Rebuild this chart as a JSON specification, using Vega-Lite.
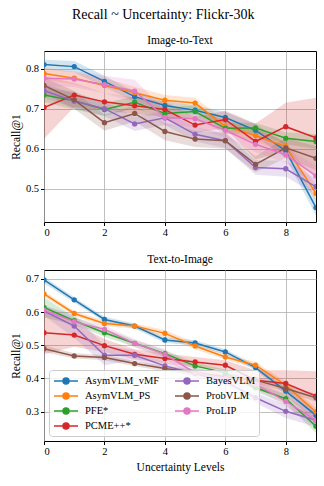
{
  "$schema": "https://vega.github.io/schema/vega-lite/v6.json",
  "padding": {"left": 9, "top": 8, "right": 8, "bottom": 5},
  "title": {"text": "Recall ~ Uncertainty: Flickr-30k", "fontSize": 14, "fontWeight": "normal", "font": "Liberation Serif", "anchor": "middle", "offset": 12},
  "config": {
    "font": "Liberation Serif",
    "view": {"stroke": "black", "strokeWidth": 1},
    "axis": {"grid": true, "gridColor": "#b0b0b0", "gridWidth": 0.8, "domain": false, "tickColor": "black", "tickSize": 3.5, "labelFontSize": 10.5, "labelColor": "black", "titleFontSize": 11.5, "titleFontWeight": "normal", "titleColor": "black", "labelFont": "Liberation Serif", "titleFont": "Liberation Serif"},
    "title": {"fontSize": 11.5, "fontWeight": "normal", "font": "Liberation Serif", "offset": 5},
    "legend": {"labelFont": "Liberation Serif"}
  },
  "data": {"values": [
    {"p":"i2t","m":"AsymVLM_vMF","x":0,"y":0.810,"e":0.012},{"p":"i2t","m":"AsymVLM_vMF","x":1,"y":0.805,"e":0.014},{"p":"i2t","m":"AsymVLM_vMF","x":2,"y":0.768,"e":0.014},{"p":"i2t","m":"AsymVLM_vMF","x":3,"y":0.730,"e":0.012},{"p":"i2t","m":"AsymVLM_vMF","x":4,"y":0.708,"e":0.012},{"p":"i2t","m":"AsymVLM_vMF","x":5,"y":0.696,"e":0.012},{"p":"i2t","m":"AsymVLM_vMF","x":6,"y":0.678,"e":0.014},{"p":"i2t","m":"AsymVLM_vMF","x":7,"y":0.646,"e":0.015},{"p":"i2t","m":"AsymVLM_vMF","x":8,"y":0.595,"e":0.018},{"p":"i2t","m":"AsymVLM_vMF","x":9,"y":0.453,"e":0.02},
    {"p":"i2t","m":"AsymVLM_PS","x":0,"y":0.788,"e":0.015},{"p":"i2t","m":"AsymVLM_PS","x":1,"y":0.776,"e":0.015},{"p":"i2t","m":"AsymVLM_PS","x":2,"y":0.758,"e":0.018},{"p":"i2t","m":"AsymVLM_PS","x":3,"y":0.740,"e":0.015},{"p":"i2t","m":"AsymVLM_PS","x":4,"y":0.721,"e":0.013},{"p":"i2t","m":"AsymVLM_PS","x":5,"y":0.714,"e":0.013},{"p":"i2t","m":"AsymVLM_PS","x":6,"y":0.655,"e":0.015},{"p":"i2t","m":"AsymVLM_PS","x":7,"y":0.633,"e":0.015},{"p":"i2t","m":"AsymVLM_PS","x":8,"y":0.605,"e":0.015},{"p":"i2t","m":"AsymVLM_PS","x":9,"y":0.488,"e":0.02},
    {"p":"i2t","m":"PFE*","x":0,"y":0.734,"e":0.018},{"p":"i2t","m":"PFE*","x":1,"y":0.720,"e":0.022},{"p":"i2t","m":"PFE*","x":2,"y":0.698,"e":0.016},{"p":"i2t","m":"PFE*","x":3,"y":0.716,"e":0.015},{"p":"i2t","m":"PFE*","x":4,"y":0.688,"e":0.015},{"p":"i2t","m":"PFE*","x":5,"y":0.693,"e":0.015},{"p":"i2t","m":"PFE*","x":6,"y":0.651,"e":0.015},{"p":"i2t","m":"PFE*","x":7,"y":0.652,"e":0.012},{"p":"i2t","m":"PFE*","x":8,"y":0.626,"e":0.015},{"p":"i2t","m":"PFE*","x":9,"y":0.618,"e":0.018},
    {"p":"i2t","m":"PCME++*","x":0,"y":0.703,"e":0.078},{"p":"i2t","m":"PCME++*","x":1,"y":0.734,"e":0.03},{"p":"i2t","m":"PCME++*","x":2,"y":0.717,"e":0.022},{"p":"i2t","m":"PCME++*","x":3,"y":0.707,"e":0.02},{"p":"i2t","m":"PCME++*","x":4,"y":0.698,"e":0.02},{"p":"i2t","m":"PCME++*","x":5,"y":0.659,"e":0.02},{"p":"i2t","m":"PCME++*","x":6,"y":0.673,"e":0.022},{"p":"i2t","m":"PCME++*","x":7,"y":0.618,"e":0.045},{"p":"i2t","m":"PCME++*","x":8,"y":0.655,"e":0.06},{"p":"i2t","m":"PCME++*","x":9,"y":0.627,"e":0.1},
    {"p":"i2t","m":"BayesVLM","x":0,"y":0.745,"e":0.018},{"p":"i2t","m":"BayesVLM","x":1,"y":0.719,"e":0.018},{"p":"i2t","m":"BayesVLM","x":2,"y":0.700,"e":0.018},{"p":"i2t","m":"BayesVLM","x":3,"y":0.662,"e":0.018},{"p":"i2t","m":"BayesVLM","x":4,"y":0.677,"e":0.018},{"p":"i2t","m":"BayesVLM","x":5,"y":0.636,"e":0.018},{"p":"i2t","m":"BayesVLM","x":6,"y":0.620,"e":0.018},{"p":"i2t","m":"BayesVLM","x":7,"y":0.553,"e":0.018},{"p":"i2t","m":"BayesVLM","x":8,"y":0.550,"e":0.02},{"p":"i2t","m":"BayesVLM","x":9,"y":0.505,"e":0.02},
    {"p":"i2t","m":"ProbVLM","x":0,"y":0.758,"e":0.02},{"p":"i2t","m":"ProbVLM","x":1,"y":0.722,"e":0.022},{"p":"i2t","m":"ProbVLM","x":2,"y":0.665,"e":0.02},{"p":"i2t","m":"ProbVLM","x":3,"y":0.688,"e":0.02},{"p":"i2t","m":"ProbVLM","x":4,"y":0.643,"e":0.022},{"p":"i2t","m":"ProbVLM","x":5,"y":0.624,"e":0.02},{"p":"i2t","m":"ProbVLM","x":6,"y":0.620,"e":0.02},{"p":"i2t","m":"ProbVLM","x":7,"y":0.561,"e":0.02},{"p":"i2t","m":"ProbVLM","x":8,"y":0.602,"e":0.025},{"p":"i2t","m":"ProbVLM","x":9,"y":0.576,"e":0.03},
    {"p":"i2t","m":"ProLIP","x":0,"y":0.776,"e":0.02},{"p":"i2t","m":"ProLIP","x":1,"y":0.774,"e":0.02},{"p":"i2t","m":"ProLIP","x":2,"y":0.760,"e":0.022},{"p":"i2t","m":"ProLIP","x":3,"y":0.744,"e":0.028},{"p":"i2t","m":"ProLIP","x":4,"y":0.678,"e":0.02},{"p":"i2t","m":"ProLIP","x":5,"y":0.675,"e":0.02},{"p":"i2t","m":"ProLIP","x":6,"y":0.646,"e":0.02},{"p":"i2t","m":"ProLIP","x":7,"y":0.611,"e":0.02},{"p":"i2t","m":"ProLIP","x":8,"y":0.585,"e":0.02},{"p":"i2t","m":"ProLIP","x":9,"y":0.532,"e":0.025},
    {"p":"t2i","m":"AsymVLM_vMF","x":0,"y":0.697,"e":0.01},{"p":"t2i","m":"AsymVLM_vMF","x":1,"y":0.637,"e":0.008},{"p":"t2i","m":"AsymVLM_vMF","x":2,"y":0.578,"e":0.008},{"p":"t2i","m":"AsymVLM_vMF","x":3,"y":0.558,"e":0.008},{"p":"t2i","m":"AsymVLM_vMF","x":4,"y":0.516,"e":0.008},{"p":"t2i","m":"AsymVLM_vMF","x":5,"y":0.507,"e":0.008},{"p":"t2i","m":"AsymVLM_vMF","x":6,"y":0.480,"e":0.008},{"p":"t2i","m":"AsymVLM_vMF","x":7,"y":0.433,"e":0.008},{"p":"t2i","m":"AsymVLM_vMF","x":8,"y":0.362,"e":0.01},{"p":"t2i","m":"AsymVLM_vMF","x":9,"y":0.289,"e":0.012},
    {"p":"t2i","m":"AsymVLM_PS","x":0,"y":0.655,"e":0.008},{"p":"t2i","m":"AsymVLM_PS","x":1,"y":0.596,"e":0.008},{"p":"t2i","m":"AsymVLM_PS","x":2,"y":0.566,"e":0.008},{"p":"t2i","m":"AsymVLM_PS","x":3,"y":0.558,"e":0.008},{"p":"t2i","m":"AsymVLM_PS","x":4,"y":0.536,"e":0.01},{"p":"t2i","m":"AsymVLM_PS","x":5,"y":0.498,"e":0.01},{"p":"t2i","m":"AsymVLM_PS","x":6,"y":0.465,"e":0.008},{"p":"t2i","m":"AsymVLM_PS","x":7,"y":0.440,"e":0.01},{"p":"t2i","m":"AsymVLM_PS","x":8,"y":0.380,"e":0.01},{"p":"t2i","m":"AsymVLM_PS","x":9,"y":0.299,"e":0.012},
    {"p":"t2i","m":"PFE*","x":0,"y":0.614,"e":0.03},{"p":"t2i","m":"PFE*","x":1,"y":0.574,"e":0.012},{"p":"t2i","m":"PFE*","x":2,"y":0.538,"e":0.012},{"p":"t2i","m":"PFE*","x":3,"y":0.506,"e":0.01},{"p":"t2i","m":"PFE*","x":4,"y":0.475,"e":0.01},{"p":"t2i","m":"PFE*","x":5,"y":0.438,"e":0.01},{"p":"t2i","m":"PFE*","x":6,"y":0.417,"e":0.01},{"p":"t2i","m":"PFE*","x":7,"y":0.372,"e":0.012},{"p":"t2i","m":"PFE*","x":8,"y":0.339,"e":0.015},{"p":"t2i","m":"PFE*","x":9,"y":0.256,"e":0.02},
    {"p":"t2i","m":"PCME++*","x":0,"y":0.538,"e":0.065},{"p":"t2i","m":"PCME++*","x":1,"y":0.531,"e":0.035},{"p":"t2i","m":"PCME++*","x":2,"y":0.499,"e":0.02},{"p":"t2i","m":"PCME++*","x":3,"y":0.473,"e":0.015},{"p":"t2i","m":"PCME++*","x":4,"y":0.460,"e":0.015},{"p":"t2i","m":"PCME++*","x":5,"y":0.450,"e":0.015},{"p":"t2i","m":"PCME++*","x":6,"y":0.440,"e":0.015},{"p":"t2i","m":"PCME++*","x":7,"y":0.395,"e":0.03},{"p":"t2i","m":"PCME++*","x":8,"y":0.385,"e":0.04},{"p":"t2i","m":"PCME++*","x":9,"y":0.347,"e":0.075},
    {"p":"t2i","m":"BayesVLM","x":0,"y":0.604,"e":0.015},{"p":"t2i","m":"BayesVLM","x":1,"y":0.558,"e":0.035},{"p":"t2i","m":"BayesVLM","x":2,"y":0.470,"e":0.03},{"p":"t2i","m":"BayesVLM","x":3,"y":0.470,"e":0.015},{"p":"t2i","m":"BayesVLM","x":4,"y":0.438,"e":0.012},{"p":"t2i","m":"BayesVLM","x":5,"y":0.415,"e":0.012},{"p":"t2i","m":"BayesVLM","x":6,"y":0.390,"e":0.012},{"p":"t2i","m":"BayesVLM","x":7,"y":0.342,"e":0.015},{"p":"t2i","m":"BayesVLM","x":8,"y":0.301,"e":0.02},{"p":"t2i","m":"BayesVLM","x":9,"y":0.274,"e":0.02},
    {"p":"t2i","m":"ProbVLM","x":0,"y":0.490,"e":0.01},{"p":"t2i","m":"ProbVLM","x":1,"y":0.468,"e":0.008},{"p":"t2i","m":"ProbVLM","x":2,"y":0.463,"e":0.008},{"p":"t2i","m":"ProbVLM","x":3,"y":0.445,"e":0.008},{"p":"t2i","m":"ProbVLM","x":4,"y":0.430,"e":0.008},{"p":"t2i","m":"ProbVLM","x":5,"y":0.418,"e":0.008},{"p":"t2i","m":"ProbVLM","x":6,"y":0.405,"e":0.008},{"p":"t2i","m":"ProbVLM","x":7,"y":0.395,"e":0.01},{"p":"t2i","m":"ProbVLM","x":8,"y":0.370,"e":0.01},{"p":"t2i","m":"ProbVLM","x":9,"y":0.342,"e":0.012},
    {"p":"t2i","m":"ProLIP","x":0,"y":0.606,"e":0.015},{"p":"t2i","m":"ProLIP","x":1,"y":0.571,"e":0.012},{"p":"t2i","m":"ProLIP","x":2,"y":0.548,"e":0.012},{"p":"t2i","m":"ProLIP","x":3,"y":0.506,"e":0.012},{"p":"t2i","m":"ProLIP","x":4,"y":0.473,"e":0.015},{"p":"t2i","m":"ProLIP","x":5,"y":0.417,"e":0.015},{"p":"t2i","m":"ProLIP","x":6,"y":0.400,"e":0.015},{"p":"t2i","m":"ProLIP","x":7,"y":0.383,"e":0.015},{"p":"t2i","m":"ProLIP","x":8,"y":0.331,"e":0.015},{"p":"t2i","m":"ProLIP","x":9,"y":0.274,"e":0.02}
  ]},
  "resolve": {"legend": {"color": "independent"}},
  "spacing": 14,
  "vconcat": [
    {
      "title": "Image-to-Text",
      "width": 272, "height": 171,
      "transform": [{"filter": "datum.p === 'i2t'"}],
      "encoding": {
        "x": {"field": "x", "type": "quantitative", "scale": {"domain": [0, 9], "nice": false}, "axis": {"values": [0, 2, 4, 6, 8], "title": null, "format": "d"}},
        "color": {"field": "m", "type": "nominal", "scale": {"domain": ["AsymVLM_vMF", "AsymVLM_PS", "PFE*", "PCME++*", "BayesVLM", "ProbVLM", "ProLIP"], "range": ["#1f77b4", "#ff7f0e", "#2ca02c", "#d62728", "#9467bd", "#8c564b", "#e377c2"]}, "legend": null}
      },
      "layer": [
        {"mark": {"type": "errorband", "opacity": 0.2, "clip": true}, "encoding": {"y": {"field": "y", "type": "quantitative", "scale": {"domain": [0.417, 0.844], "nice": false, "zero": false}, "axis": {"values": [0.5, 0.6, 0.7, 0.8], "title": "Recall@1", "format": ".1f"}}, "yError": {"field": "e"}}},
        {"mark": {"type": "line", "strokeWidth": 1.5, "clip": true}, "encoding": {"y": {"field": "y", "type": "quantitative"}}},
        {"mark": {"type": "point", "filled": true, "size": 28, "opacity": 1, "clip": true}, "encoding": {"y": {"field": "y", "type": "quantitative"}}}
      ]
    },
    {
      "title": "Text-to-Image",
      "width": 272, "height": 171,
      "transform": [{"filter": "datum.p === 't2i'"}],
      "encoding": {
        "x": {"field": "x", "type": "quantitative", "scale": {"domain": [0, 9], "nice": false}, "axis": {"values": [0, 2, 4, 6, 8], "title": "Uncertainty Levels", "format": "d"}},
        "color": {"field": "m", "type": "nominal", "scale": {"domain": ["AsymVLM_vMF", "AsymVLM_PS", "PFE*", "PCME++*", "BayesVLM", "ProbVLM", "ProLIP"], "range": ["#1f77b4", "#ff7f0e", "#2ca02c", "#d62728", "#9467bd", "#8c564b", "#e377c2"]},
          "legend": {"title": null, "orient": "bottom-left", "offset": 5, "columns": 2, "columnPadding": 12, "rowPadding": 2, "padding": 4, "fillColor": "rgba(255,255,255,0.8)", "strokeColor": "#cccccc", "cornerRadius": 3, "labelFontSize": 10.5, "labelColor": "black", "labelOffset": 18, "symbolType": "M-1,0H3M0.5,0A0.5,0.5,0,1,1,1.5,0A0.5,0.5,0,1,1,0.5,0Z", "symbolSize": 144, "symbolStrokeWidth": 1.5, "symbolOpacity": 1}}
      },
      "layer": [
        {"mark": {"type": "errorband", "opacity": 0.2, "clip": true}, "encoding": {"y": {"field": "y", "type": "quantitative", "scale": {"domain": [0.2116, 0.727], "nice": false, "zero": false}, "axis": {"values": [0.3, 0.4, 0.5, 0.6, 0.7], "title": "Recall@1", "format": ".1f"}}, "yError": {"field": "e"}}},
        {"mark": {"type": "line", "strokeWidth": 1.5, "clip": true}, "encoding": {"y": {"field": "y", "type": "quantitative"}}},
        {"mark": {"type": "point", "filled": true, "size": 28, "opacity": 1, "clip": true}, "encoding": {"y": {"field": "y", "type": "quantitative"}}}
      ]
    }
  ]
}
